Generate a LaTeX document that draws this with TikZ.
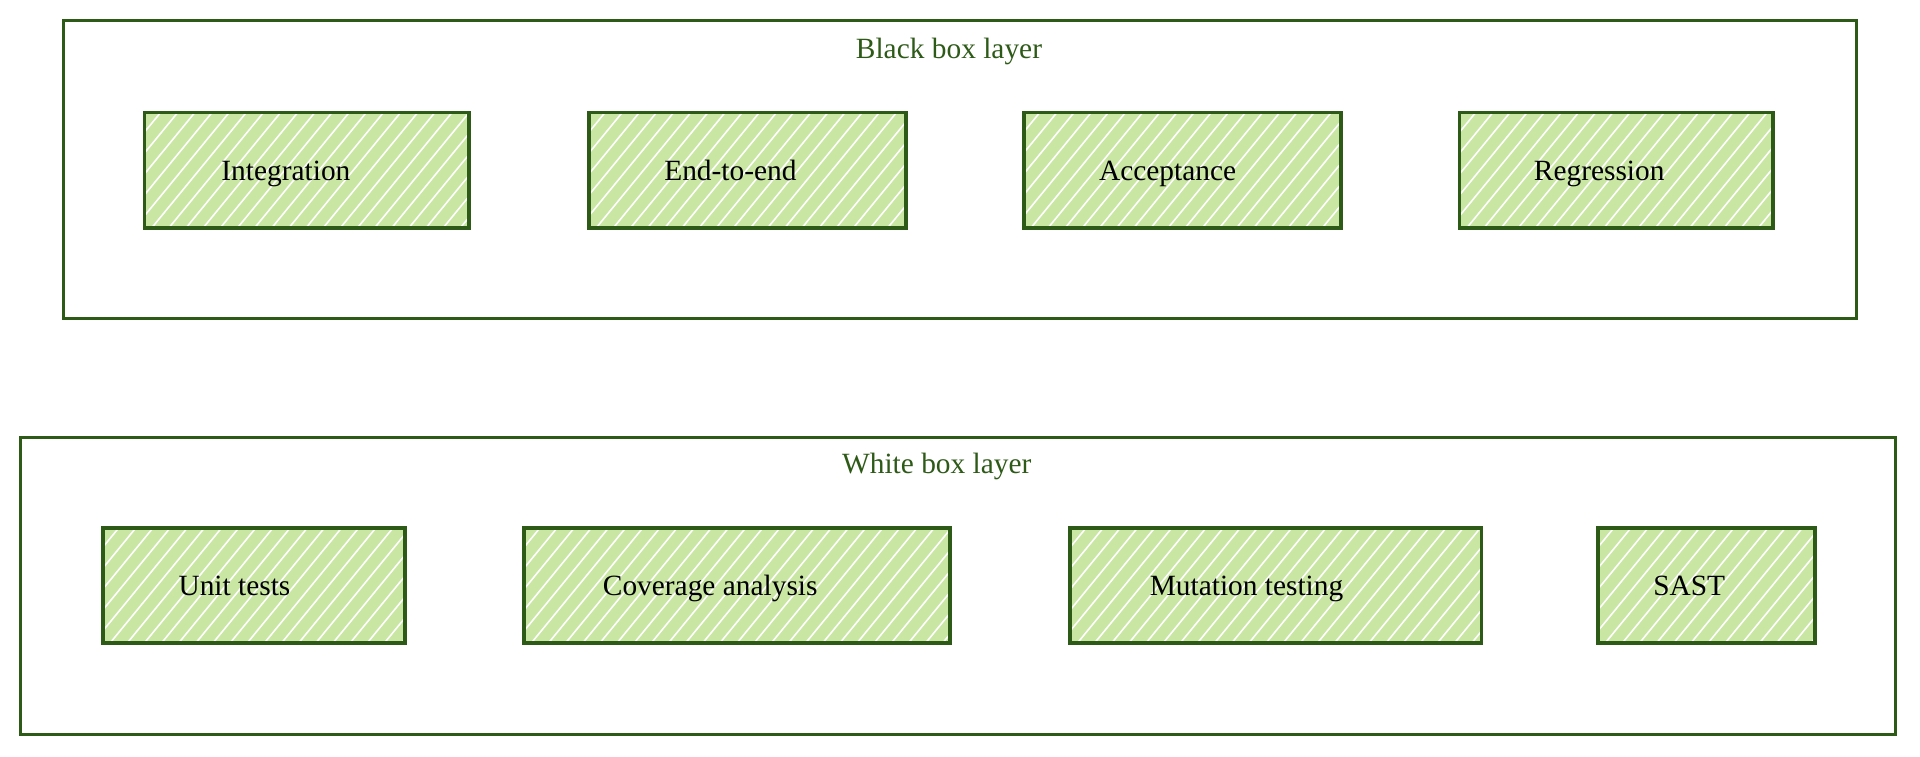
\documentclass[tikz,border=0pt]{standalone}
\usepackage{fontspec}
\setmainfont{Liberation Serif}
\begin{document}
\definecolor{stk}{HTML}{2E5A18}
\definecolor{fil}{HTML}{C9E6A3}
\begin{tikzpicture}[x=1pt,y=-1pt,
  layer/.style={draw=stk,line width=2.6pt},
  item/.style={draw=stk,line width=3pt},
  lbl/.style={font=\fontsize{24}{28}\selectfont,text=black,anchor=base},
  ttl/.style={font=\fontsize{24}{28}\selectfont,text=stk,anchor=base}]
\useasboundingbox (0,0) rectangle (1568,618);
\def\mybox#1#2#3#4#5#6#7{%
  \fill[fil] (#2,#3) rectangle (#4,#5);
  \begin{scope}
  \clip (#2,#3) rectangle (#4,#5);
  \foreach \k in {-120,-106,...,400}{\draw[white,line width=1.3pt] (#2+\k,#5) -- ++(100,-122);}
  \end{scope}
  \node[item,minimum width=#4-#2,minimum height=#5-#3,inner sep=0pt] (#1) at ({(#2+#4)/2},{(#3+#5)/2}) {};
  \node[lbl] at ({(#2+#4)/2+#7},{(#3+#5)/2+8}) {#6};}
\node[layer,minimum width=1464,minimum height=243,inner sep=0pt] (bb) at (784,138.5) {};
\node[ttl] (bbt) at (775,48) {Black box layer};
\mybox{int}{118}{92}{383}{186}{Integration}{-17}
\mybox{e2e}{481}{92}{740}{186}{End-to-end}{-14}
\mybox{acc}{836}{92}{1095}{186}{Acceptance}{-12}
\mybox{reg}{1192}{92}{1448}{186}{Regression}{-14}
\node[layer,minimum width=1531,minimum height=243,inner sep=0pt] (wb) at (782.5,478.5) {};
\node[ttl] (wbt) at (765,387) {White box layer};
\mybox{ut}{84}{431}{331}{525}{Unit tests}{-16}
\mybox{cov}{428}{431}{776}{525}{Coverage analysis}{-22}
\mybox{mut}{874}{431}{1210}{525}{Mutation testing}{-24}
\mybox{sast}{1305}{431}{1482}{525}{SAST}{-14}
\end{tikzpicture}
\end{document}
